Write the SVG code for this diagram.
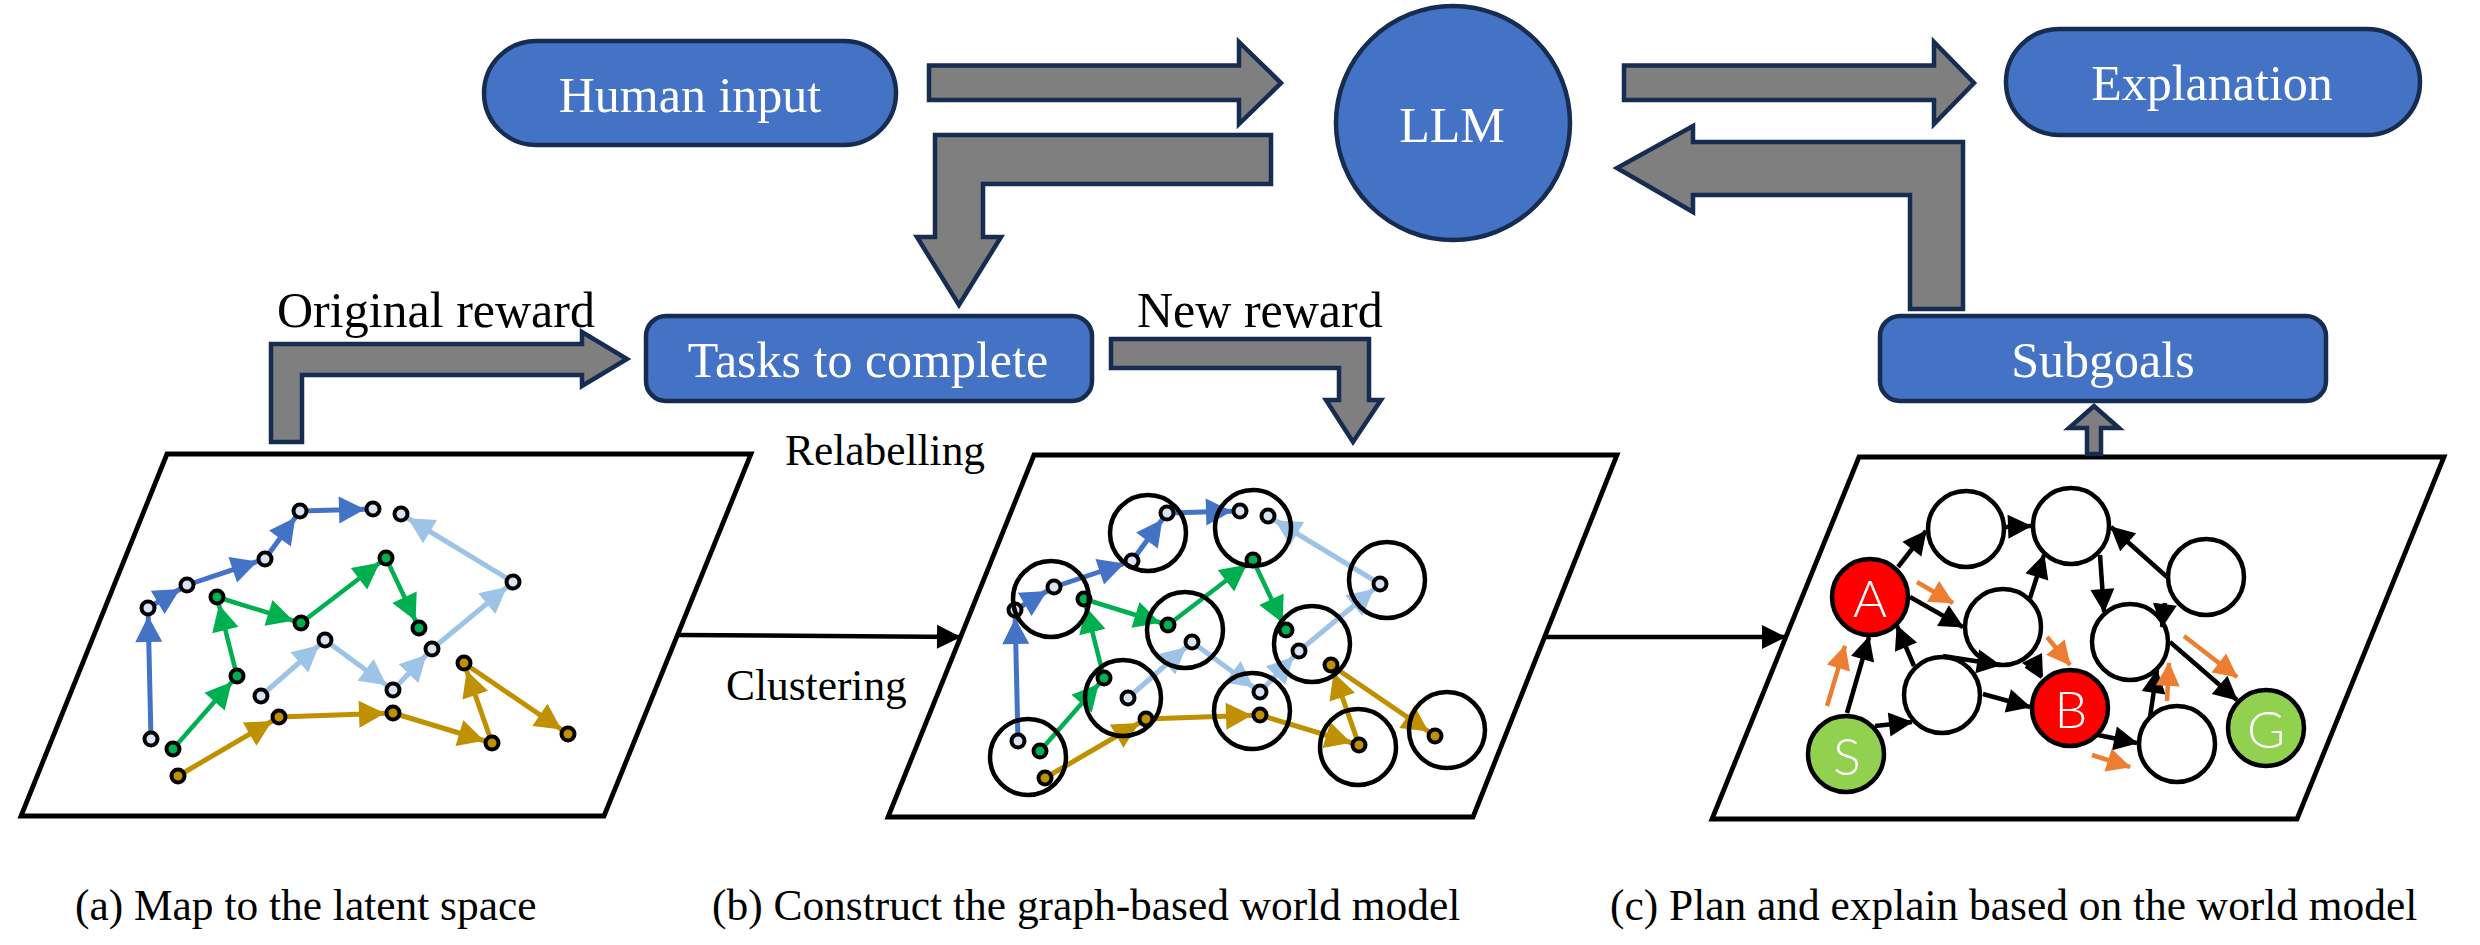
<svg xmlns="http://www.w3.org/2000/svg" xmlns:xlink="http://www.w3.org/1999/xlink" width="2480" height="945" viewBox="0 0 2480 945">
<style>
text{font-family:"Liberation Serif","Times New Roman",serif}
.w{fill:#fff;font-size:50px;text-anchor:middle}
.b{fill:#000;font-size:50px}
.s{fill:#000;font-size:43.4px}
.box{fill:#4472c4;stroke:#172c51;stroke-width:4.5}
.ga{fill:#7f7f7f;stroke:#172c51;stroke-width:4.5;stroke-miterlimit:8}
.panel{fill:#fff;stroke:#000;stroke-width:4.8}
.d{stroke:#000;stroke-width:4}
.tb{stroke:#4472c4;stroke-width:5;fill:none}
.tl{stroke:#9dc3e6;stroke-width:5;fill:none}
.tg{stroke:#00b050;stroke-width:4.5;fill:none}
.ty{stroke:#bf9000;stroke-width:5;fill:none}
.bc{fill:none;stroke:#000;stroke-width:4.5}
.n{fill:#fff;stroke:#000;stroke-width:4.5}
.k{stroke:#000;stroke-width:4.5;fill:none;marker-end:url(#hk)}
.o{stroke:#ed7d31;stroke-width:4.5;fill:none;marker-end:url(#ho)}
.l{fill:#fff;font-family:"Lato","Noto Sans",sans-serif;font-size:52px;text-anchor:middle;font-weight:300}
</style>
<defs>
<marker id="hb" markerUnits="userSpaceOnUse" markerWidth="26" markerHeight="27" refX="34" refY="13.5" orient="auto" overflow="visible"><path d="M0,0L26,13.5L0,27z" fill="#4472c4"/></marker>
<marker id="hl" markerUnits="userSpaceOnUse" markerWidth="26" markerHeight="27" refX="34" refY="13.5" orient="auto" overflow="visible"><path d="M0,0L26,13.5L0,27z" fill="#9dc3e6"/></marker>
<marker id="hg" markerUnits="userSpaceOnUse" markerWidth="26" markerHeight="27" refX="34" refY="13.5" orient="auto" overflow="visible"><path d="M0,0L26,13.5L0,27z" fill="#00b050"/></marker>
<marker id="hy" markerUnits="userSpaceOnUse" markerWidth="26" markerHeight="27" refX="34" refY="13.5" orient="auto" overflow="visible"><path d="M0,0L26,13.5L0,27z" fill="#bf9000"/></marker>
<marker id="hk" markerUnits="userSpaceOnUse" markerWidth="24" markerHeight="24" refX="23" refY="12" orient="auto" overflow="visible"><path d="M0,0L24,12L0,24z" fill="#000"/></marker>
<marker id="ho" markerUnits="userSpaceOnUse" markerWidth="24" markerHeight="24" refX="23" refY="12" orient="auto" overflow="visible"><path d="M0,0L24,12L0,24z" fill="#ed7d31"/></marker>
<g id="traj">
<g class="tb">
<line x1="151" y1="739" x2="148" y2="608" marker-end="url(#hb)"/>
<line x1="148" y1="608" x2="187" y2="585" marker-end="url(#hb)"/>
<line x1="187" y1="585" x2="265" y2="559" marker-end="url(#hb)"/>
<line x1="265" y1="559" x2="300" y2="511" marker-end="url(#hb)"/>
<line x1="300" y1="511" x2="373" y2="509" marker-end="url(#hb)"/>
</g>
<g class="tl">
<line x1="261" y1="696" x2="325" y2="640" marker-end="url(#hl)"/>
<line x1="325" y1="640" x2="393" y2="690" marker-end="url(#hl)"/>
<line x1="393" y1="690" x2="432" y2="649" marker-end="url(#hl)"/>
<line x1="432" y1="649" x2="513" y2="582" marker-end="url(#hl)"/>
<line x1="513" y1="582" x2="401" y2="514" marker-end="url(#hl)"/>
</g>
<g class="tg">
<line x1="173" y1="749" x2="237" y2="676" marker-end="url(#hg)"/>
<line x1="237" y1="676" x2="217" y2="597" marker-end="url(#hg)"/>
<line x1="217" y1="597" x2="301" y2="623" marker-end="url(#hg)"/>
<line x1="301" y1="623" x2="386" y2="558" marker-end="url(#hg)"/>
<line x1="386" y1="558" x2="419" y2="628" marker-end="url(#hg)"/>
</g>
<g class="ty">
<line x1="178" y1="776" x2="279" y2="717" marker-end="url(#hy)"/>
<line x1="279" y1="717" x2="393" y2="713" marker-end="url(#hy)"/>
<line x1="393" y1="713" x2="492" y2="743" marker-end="url(#hy)"/>
<line x1="492" y1="743" x2="464" y2="663" marker-end="url(#hy)"/>
<line x1="464" y1="663" x2="568" y2="734" marker-end="url(#hy)"/>
</g>
<g class="d" fill="#dae3f3">
<circle cx="151" cy="739" r="6.5"/><circle cx="148" cy="608" r="6.5"/><circle cx="187" cy="585" r="6.5"/><circle cx="265" cy="559" r="6.5"/><circle cx="300" cy="511" r="6.5"/><circle cx="373" cy="509" r="6.5"/>
<circle cx="401" cy="514" r="6.5"/><circle cx="513" cy="582" r="6.5"/><circle cx="325" cy="640" r="6.5"/><circle cx="261" cy="696" r="6.5"/><circle cx="393" cy="690" r="6.5"/><circle cx="432" cy="649" r="6.5"/>
</g>
<g class="d" fill="#00b050">
<circle cx="173" cy="749" r="6.5"/><circle cx="237" cy="676" r="6.5"/><circle cx="217" cy="597" r="6.5"/><circle cx="301" cy="623" r="6.5"/><circle cx="386" cy="558" r="6.5"/><circle cx="419" cy="628" r="6.5"/>
</g>
<g class="d" fill="#bf9000">
<circle cx="178" cy="776" r="6.5"/><circle cx="279" cy="717" r="6.5"/><circle cx="393" cy="713" r="6.5"/><circle cx="492" cy="743" r="6.5"/><circle cx="464" cy="663" r="6.5"/><circle cx="568" cy="734" r="6.5"/>
</g>
</g>
</defs>
<rect width="2480" height="945" fill="#fff"/>

<g id="panel-a"><path class="panel" d="M167,454H751L604,816H21z"/><use xlink:href="#traj" href="#traj"/></g>
<g id="panel-b"><path class="panel" d="M1034,455H1617L1473,817H888z"/><use xlink:href="#traj" href="#traj" transform="translate(867,2)"/>
<g class="bc">
<circle cx="1051" cy="599" r="38"/><circle cx="1148" cy="533" r="38"/><circle cx="1253" cy="528" r="38"/><circle cx="1387" cy="580" r="38"/><circle cx="1185" cy="630" r="38"/><circle cx="1312" cy="644" r="38"/><circle cx="1123" cy="698" r="38"/><circle cx="1252" cy="711" r="38"/><circle cx="1028" cy="757" r="38"/><circle cx="1358" cy="747" r="38"/><circle cx="1447" cy="730" r="38"/>
</g></g>
<g id="panel-c"><path class="panel" d="M1859,457H2444L2297,819H1712z"/></g>

<g id="node-human-input"><rect class="box" x="484" y="41" width="412" height="104" rx="52"/><text class="w" x="690" y="112">Human input</text></g>
<g id="node-llm"><circle class="box" cx="1453" cy="123" r="117"/><text class="w" x="1452" y="142">LLM</text></g>
<g id="node-explanation"><rect class="box" x="2006" y="29" width="414" height="106" rx="53"/><text class="w" x="2212" y="100">Explanation</text></g>
<g id="node-tasks"><rect class="box" x="646" y="316" width="446" height="85" rx="20"/><text class="w" x="868" y="377">Tasks to complete</text></g>
<g id="node-subgoals"><rect class="box" x="1880" y="316" width="446" height="85" rx="20"/><text class="w" x="2103" y="377">Subgoals</text></g>

<g id="pnode-A"><circle class="n" style="fill:#f00" cx="1870" cy="597" r="38"/><text class="l" x="1870" y="617">A</text></g>
<g id="pnode-S"><circle class="n" style="fill:#92d050" cx="1846" cy="754" r="38"/><text class="l" x="1847" y="775">S</text></g>
<g id="pnode-B"><circle class="n" style="fill:#f00" cx="2070" cy="708" r="38"/><text class="l" x="2071" y="728">B</text></g>
<g id="pnode-G"><circle class="n" style="fill:#92d050" cx="2266" cy="728" r="38"/><text class="l" x="2266" y="748">G</text></g>
<g id="pnode-1"><circle class="n" cx="1966" cy="529" r="38"/></g>
<g id="pnode-2"><circle class="n" cx="2071" cy="526" r="38"/></g>
<g id="pnode-3"><circle class="n" cx="2206" cy="577" r="38"/></g>
<g id="pnode-4"><circle class="n" cx="2003" cy="627" r="38"/></g>
<g id="pnode-5"><circle class="n" cx="2130" cy="642" r="38"/></g>
<g id="pnode-6"><circle class="n" cx="1942" cy="695" r="38"/></g>
<g id="pnode-7"><circle class="n" cx="2177" cy="744" r="38"/></g>

<g id="connectors">
<g id="block-arrows" class="ga">
<path d="M929,65.5H1239V42L1281,83L1239,124V100H929z"/>
<path d="M1271,135H935V237H917L959,305L1001,237H983V184H1271z"/>
<path d="M271,442V344H582V332L627,359L582,386V375H302V442z"/>
<path d="M1111,339H1369V400H1381L1353,442L1326,400H1339V368H1111z"/>
<path d="M1624,65.5H1934V42L1974,83L1934,124V100H1624z"/>
<path d="M1963,142H1693V126L1617,168L1693,212V195H1910V309H1963z"/>
<path d="M2087,454V428H2069L2094,406L2119,428H2101V454z"/>
</g>
<g id="panel-links" stroke="#000" stroke-width="4.5" fill="none">
<line x1="679" y1="635" x2="960" y2="637" marker-end="url(#hk)"/>
<line x1="1545" y1="637" x2="1785" y2="637" marker-end="url(#hk)"/>
</g>
<g id="graph-edges">
<line class="k" x1="1898" y1="567" x2="1926" y2="531"/>
<line class="k" x1="2004" y1="527" x2="2031" y2="526"/>
<line class="k" x1="2030" y1="598" x2="2044" y2="555"/>
<line class="k" x1="2100" y1="555" x2="2104" y2="612"/>
<line class="k" x1="2167" y1="577" x2="2111" y2="527"/>
<line class="k" x1="2165" y1="603" x2="2162" y2="627"/>
<line class="k" x1="2170" y1="642" x2="2237" y2="700"/>
<line class="k" x1="2150" y1="717" x2="2157" y2="670"/>
<line class="k" x1="1910" y1="597" x2="1963" y2="627"/>
<line class="k" x1="1914" y1="666" x2="1897" y2="626"/>
<line class="k" x1="1847" y1="713" x2="1869" y2="637"/>
<line class="k" x1="1875" y1="726" x2="1912" y2="722"/>
<line class="k" x1="1943" y1="656" x2="2000" y2="665"/>
<path d="M2042,677L2026,666" stroke="#000" stroke-width="4.5" fill="none"/>
<path d="M2022,663L2042,653L2043,677z" fill="#000"/>
<line class="k" x1="1983" y1="694" x2="2030" y2="707"/>
<line class="k" x1="2098" y1="735" x2="2137" y2="743"/>
</g>
<g id="plan-arrows">
<line class="o" x1="1827" y1="706" x2="1845" y2="646"/>
<line class="o" x1="1917" y1="582" x2="1953" y2="603"/>
<line class="o" x1="2047" y1="637" x2="2070" y2="665"/>
<line class="o" x1="2092" y1="755" x2="2130" y2="767"/>
<line class="o" x1="2167" y1="701" x2="2169" y2="663"/>
<line class="o" x1="2184" y1="636" x2="2237" y2="677"/>
</g>
</g>

<g id="labels">
<text class="b" x="277" y="327">Original reward</text>
<text class="b" x="1137" y="327">New reward</text>
<text class="s" x="785" y="465">Relabelling</text>
<text class="s" x="726" y="700">Clustering</text>
<text class="s" x="75" y="920">(a) Map to the latent space</text>
<text class="s" x="712" y="920">(b) Construct the graph-based world model</text>
<text class="s" x="1610" y="920">(c) Plan and explain based on the world model</text>
</g>
</svg>
